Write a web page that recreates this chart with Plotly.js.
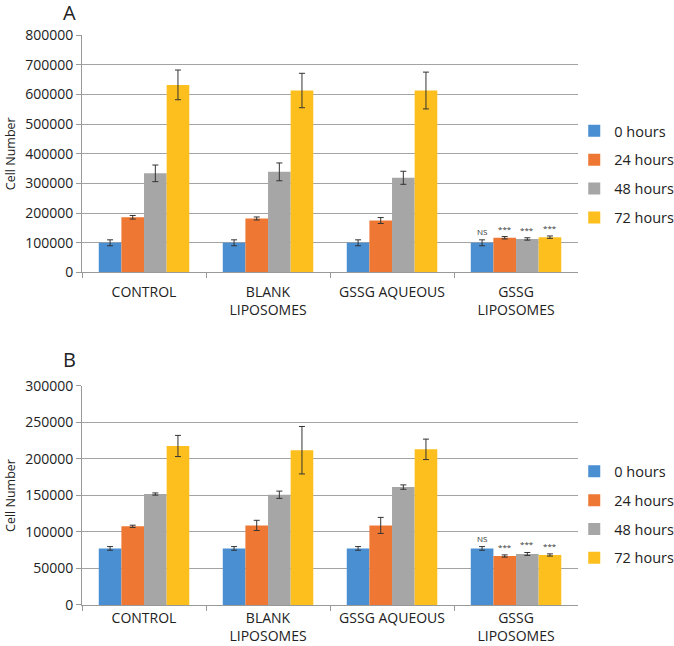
<!DOCTYPE html>
<html>
<head>
<meta charset="utf-8">
<script src="https://cdn.plot.ly/plotly-3.0.1.min.js"></script>
<style>
  html, body { margin: 0; padding: 0; background: #fff; }
  #chart { width: 674px; height: 646px; }
</style>
</head>
<body>
<div id="chart"></div>
<script>
(function() {
  var groups = ['CONTROL', 'BLANK<br>LIPOSOMES', 'GSSG AQUEOUS', 'GSSG<br>LIPOSOMES'];
  var seriesNames = ['0 hours', '24 hours', '48 hours', '72 hours'];
  var colors = ['#4a8fd2', '#ee7833', '#a6a6a6', '#fcbf1e'];

  // panel A values per series (groups in order)
  var aMeans = [
    [100000, 100000, 100000, 100000],
    [186000, 182000, 175000, 117000],
    [334000, 339000, 319000, 113000],
    [632000, 613000, 613000, 119000]
  ];
  var aErrs = [
    [10000, 10000, 10000, 10000],
    [6000, 5000, 10000, 4000],
    [28000, 30000, 22000, 4000],
    [50000, 58000, 62000, 4000]
  ];

  // panel B
  var bMeans = [
    [77500, 77500, 77500, 77500],
    [107800, 109000, 109000, 67100],
    [152000, 151000, 161500, 69900],
    [217800, 212000, 213200, 68500]
  ];
  var bErrs = [
    [2500, 2500, 2500, 2500],
    [1500, 7000, 11000, 1500],
    [1500, 5000, 3000, 2000],
    [14500, 32500, 14000, 1500]
  ];

  var sigLabels = ['NS', '***', '***', '***'];

  var traces = [];
  for (var i = 0; i < seriesNames.length; i++) {
    traces.push({
      type: 'bar', x: groups, y: aMeans[i], name: seriesNames[i],
      xaxis: 'x', yaxis: 'y', legend: 'legend', legendgroup: 'a' + i,
      marker: {color: colors[i]},
      error_y: {type: 'data', array: aErrs[i], color: '#333', thickness: 1, width: 3},
      hoverinfo: 'y'
    });
  }
  for (var i = 0; i < seriesNames.length; i++) {
    traces.push({
      type: 'bar', x: groups, y: bMeans[i], name: seriesNames[i],
      xaxis: 'x2', yaxis: 'y2', legend: 'legend2', legendgroup: 'b' + i,
      marker: {color: colors[i]},
      error_y: {type: 'data', array: bErrs[i], color: '#333', thickness: 1, width: 3},
      hoverinfo: 'y'
    });
  }

  // significance marks above the last group
  var barW = 22.75;
  var annotations = [];
  for (var i = 0; i < 4; i++) {
    annotations.push({
      x: groups[3], y: aMeans[i][3] + aErrs[i][3], xref: 'x', yref: 'y',
      text: sigLabels[i], showarrow: false, xshift: (i - 1.5) * barW,
      yanchor: 'bottom', yshift: 1, font: {size: 8, color: '#333'}
    });
    annotations.push({
      x: groups[3], y: bMeans[i][3] + bErrs[i][3], xref: 'x2', yref: 'y2',
      text: sigLabels[i], showarrow: false, xshift: (i - 1.5) * barW,
      yanchor: 'bottom', yshift: 1, font: {size: 8, color: '#333'}
    });
  }
  annotations.push({x: 0.091, y: 0.981, xref: 'paper', yref: 'paper', text: 'A', showarrow: false,
    font: {size: 20, color: '#222'}, xanchor: 'left', yanchor: 'middle'});
  annotations.push({x: 0.091, y: 0.443, xref: 'paper', yref: 'paper', text: 'B', showarrow: false,
    font: {size: 20, color: '#222'}, xanchor: 'left', yanchor: 'middle'});

  var xStyle = {
    type: 'category', showgrid: false, showline: true, linecolor: '#999', linewidth: 1,
    ticks: 'outside', tickson: 'boundaries', ticklen: 5, tickcolor: '#999',
    tickfont: {size: 14, color: '#222'}, domain: [0.1217, 0.8576], fixedrange: true
  };
  var yStyle = {
    showgrid: true, gridcolor: '#a3a3a3', gridwidth: 1, showline: true, linecolor: '#999',
    ticks: 'outside', ticklen: 5, tickcolor: '#999', zeroline: false,
    tickfont: {size: 14, color: '#222'}, fixedrange: true, tickformat: 'd',
    title: {text: 'Cell Number', font: {size: 12.5, color: '#222'}, standoff: 6}
  };

  var legendStyle = {x: 0.852, xanchor: 'left', yanchor: 'middle', font: {size: 14.5},
    itemwidth: 30, tracegroupgap: 7, bgcolor: 'rgba(0,0,0,0)'};

  var layout = {
    width: 674, height: 646,
    margin: {l: 0, r: 0, t: 0, b: 0, autoexpand: false},
    paper_bgcolor: '#fff', plot_bgcolor: '#fff',
    font: {family: 'Open Sans, sans-serif', color: '#222'},
    barmode: 'group', bargap: 0.27, bargroupgap: 0,
    showlegend: true,
    xaxis: Object.assign({}, xStyle, {anchor: 'y', ticklabelstandoff: 7}),
    xaxis2: Object.assign({}, xStyle, {anchor: 'y2', ticklabelstandoff: 0}),
    yaxis: Object.assign({}, yStyle, {anchor: 'x', domain: [0.5782, 0.9458], range: [0, 800000], dtick: 100000}),
    yaxis2: Object.assign({}, yStyle, {anchor: 'x2', domain: [0.0635, 0.4025], range: [0, 300000], dtick: 50000}),
    legend: Object.assign({}, legendStyle, {y: 0.73}),
    legend2: Object.assign({}, legendStyle, {y: 0.203}),
    annotations: annotations
  };

  Plotly.newPlot('chart', traces, layout, {displayModeBar: false, staticPlot: true});
})();
</script>
</body>
</html>
